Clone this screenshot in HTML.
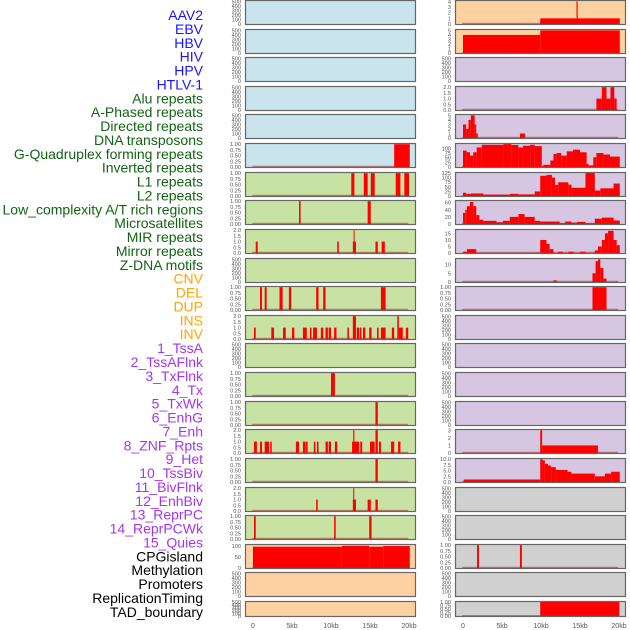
<!DOCTYPE html>
<html><head><meta charset="utf-8"><style>
html,body{margin:0;padding:0;background:#fff;}
svg{display:block;font-family:"Liberation Sans",sans-serif;}
</style></head><body>
<svg id="chart" width="630" height="630" viewBox="0 0 630 630" xmlns="http://www.w3.org/2000/svg"></svg>
<script>
// ---- labels ----
const trackLabels = ["AAV2","EBV","HBV","HIV","HPV","HTLV-1","Alu repeats","A-Phased repeats","Directed repeats","DNA transposons","G-Quadruplex forming repeats","Inverted repeats","L1 repeats","L2 repeats","Low_complexity A/T rich regions","Microsatellites","MIR repeats","Mirror repeats","Z-DNA motifs","CNV","DEL","DUP","INS","INV","1_TssA","2_TssAFlnk","3_TxFlnk","4_Tx","5_TxWk","6_EnhG","7_Enh","8_ZNF_Rpts","9_Het","10_TssBiv","11_BivFlnk","12_EnhBiv","13_ReprPC","14_ReprPCWk","15_Quies","CPGisland","Methylation","Promoters","ReplicationTiming","TAD_boundary"];
const labelColors = ["#1515ff","#1515ff","#1515ff","#1515ff","#1515ff","#1515ff","#126412","#126412","#126412","#126412","#126412","#126412","#126412","#126412","#126412","#126412","#126412","#126412","#126412","#ffa500","#ffa500","#ffa500","#ffa500","#ffa500","#a435f0","#a435f0","#a435f0","#a435f0","#a435f0","#a435f0","#a435f0","#a435f0","#a435f0","#a435f0","#a435f0","#a435f0","#a435f0","#a435f0","#a435f0","#000","#000","#000","#000","#000"];
const xTicks = [0,5,10,15,20];
const xTickLabels = ["0","5kb","10kb","15kb","20kb"];
// ---- tick sets ----
const tEmpty = [0,100,200,300,400,500];
const tEmptyL = ["0","100","200","300","400","500"];
const t1 = [0,0.25,0.5,0.75,1];
const t1L = ["0.00","0.25","0.50","0.75","1.00"];
const t2 = [0,0.5,1,1.5,2];
const t2L = ["0.0","0.5","1.0","1.5","2.0"];
// ---- left column data: [startKb, endKb, value] ----
const L6 = [[18.1,20.1,1]];
const L7 = [[12.6,13.0,1],[14.2,14.7,1],[15.1,15.6,1],[18.3,18.9,1],[19.4,20.0,1]];
const L8 = [[5.9,6.1,1],[14.7,15.1,1]];
const L9 = [[0.35,0.6,1],[10.8,11.0,1],[12.8,13.2,1],[12.9,13.0,2],[15.7,16.0,1],[16.5,16.9,1]];
const L11 = [[0.9,1.15,1],[1.5,1.75,1],[3.4,3.8,1],[4.6,4.9,1],[8.1,8.4,1],[9.0,9.3,1],[16.4,17.0,1]];
const L12 = [[0.13,0.35,1],[2.35,2.7,1],[3.85,4.2,1],[5.0,5.3,1],[6.4,6.9,1],[7.3,7.5,1],[7.7,8.2,1],[8.7,9.0,1],[9.3,9.6,1],[9.7,10.0,1],[10.4,10.7,1],[12.1,12.3,1],[12.8,13.2,2],[13.3,13.6,1],[13.7,13.9,1],[14.1,14.4,1],[14.9,15.2,1],[15.9,16.1,1],[16.4,17.0,1],[17.8,18.1,1],[18.5,18.7,2],[18.7,19.2,1],[19.6,19.9,1]];
const L14 = [[10.0,10.5,1]];
const L15 = [[15.7,16.0,1]];
const L16 = [[0.13,0.5,1],[0.9,1.15,1],[1.5,2.05,1],[2.2,2.4,1],[5.5,5.9,1],[6.4,6.7,1],[6.75,7.0,1],[7.8,8.0,1],[8.2,8.4,1],[9.3,9.6,1],[9.7,10.0,1],[10.5,10.8,1],[12.7,13.6,1],[12.85,13.0,2],[13.75,14.0,1],[15.0,15.6,1],[15.7,16.0,2],[16.15,16.4,1],[17.7,18.1,1],[18.6,18.9,1]];
const L17 = [[15.7,16.0,1]];
const L18 = [[8.1,8.3,1],[12.8,13.2,1],[12.85,12.95,2],[14.7,15.1,1],[15.7,16.0,1]];
const L19 = [[0.13,0.35,1],[10.4,10.6,1],[14.9,15.2,1]];
const L20 = [[0,11.4,97],[11.4,14.9,101],[14.9,16.7,97],[16.7,20.1,100]];
// ---- right column data ----
const R1 = [[9.9,20.1,1],[14.55,14.7,4]];
const R2 = [[0,9.9,4],[9.9,20.1,5]];
const R4 = [[17.1,17.8,1],[17.8,18.4,2],[18.4,18.9,1],[18.9,19.4,2],[19.4,19.7,1]];
const R5 = [[0,0.4,3],[0.4,0.7,2],[0.7,1.0,4],[1.0,1.5,5],[1.5,1.7,3],[1.7,1.9,1],[7.3,7.95,1]];
const R6 = [[0,0.46,88],[0.46,0.9,79],[0.9,1.3,61],[1.3,1.75,79],[1.75,2.4,105],[2.4,5.2,119],[5.2,6.2,123],[6.2,7.1,118],[7.1,7.7,105],[7.7,8.6,114],[8.6,9.2,119],[9.2,10.1,112],[10.1,10.3,5],[10.3,11.2,12],[11.2,11.6,35],[11.6,12.0,70],[12.0,12.6,75],[12.6,13.3,61],[13.3,14.1,84],[14.1,15.0,93],[15.0,15.85,79],[15.85,16.1,17],[16.1,16.7,9],[16.7,17.1,52],[17.1,18.0,75],[18.0,18.85,67],[18.85,20.1,56]];
const R7 = [[0,0.4,18],[0.4,1.0,12],[1.0,2.6,14],[2.6,6.0,8],[6.0,7.1,12],[7.1,9.2,9],[9.2,9.9,25],[9.9,10.7,110],[10.7,11.4,115],[11.4,11.8,100],[11.8,12.2,60],[12.2,13.5,75],[13.5,13.9,62],[13.9,15.7,45],[15.7,16.9,125],[16.9,17.6,30],[17.6,19.3,42],[19.3,20.1,68]];
const R8 = [[0,0.3,31],[0.3,0.5,40],[0.5,0.9,50],[0.9,1.3,62],[1.3,1.7,50],[1.7,2.1,25],[2.1,2.6,12],[2.6,4.3,9],[4.3,5.1,5],[5.1,6.0,9],[6.0,7.1,20],[7.1,7.9,28],[7.9,9.2,20],[9.2,9.9,9],[9.9,12.4,7],[12.4,13.1,2],[13.1,13.9,7],[13.9,14.6,4],[14.6,15.7,6],[15.7,16.9,2],[16.9,17.8,15],[17.8,19.3,18],[19.3,20.1,10]];
const R9 = [[0.06,0.5,1],[0.5,1.7,3],[9.9,10.7,10],[10.7,11.1,7],[11.1,11.6,3],[12.2,12.8,1],[13.5,14.2,1],[15.0,15.7,1],[16.9,17.3,2],[17.3,17.8,5],[17.8,18.2,10],[18.2,18.6,15],[18.6,19.3,17],[19.3,19.7,10],[19.7,20.1,6]];
const R10 = [[11.6,12.0,1],[16.6,17.0,5],[17.0,17.3,12],[17.3,17.6,13],[17.6,18.0,8],[18.0,18.4,2]];
const R11 = [[16.6,18.4,1]];
const R16 = [[9.9,10.15,3],[10.15,17.3,1]];
const R17 = [[0.1,9.9,1.1],[9.9,10.2,10],[10.2,10.5,9.5],[10.5,10.9,8],[10.9,11.3,7.2],[11.3,11.9,6.5],[11.9,13.4,5.3],[13.4,13.9,4.5],[13.9,16.9,3.7],[16.9,18.2,2.5],[18.2,19.0,3.7],[19.0,20.1,4.5]];
const R20 = [[1.8,2.05,1],[7.3,7.55,1]];
const R22 = [[9.9,20.05,1]];

const BLUE="#c9e4ec",GREEN="#c8e2a4",PEACH="#fdd2a0",LAV="#d6c6e2",GREY="#d0d0d0";
function P(bg,segs,ymax,ticks,tl){return {bg:bg,segs:segs,ymax:ymax,ticks:ticks,tl:tl};}
const E = (bg)=>P(bg,[],520,tEmpty,tEmptyL);
const leftPanels = [E(BLUE),E(BLUE),E(BLUE),E(BLUE),E(BLUE),P(BLUE,L6,1.03,t1,t1L),
 P(GREEN,L7,1.03,t1,t1L),P(GREEN,L8,1.03,t1,t1L),P(GREEN,L9,2.06,t2,t2L),E(GREEN),P(GREEN,L11,1.03,t1,t1L),P(GREEN,L12,2.06,t2,t2L),
 E(GREEN),P(GREEN,L14,1.03,t1,t1L),P(GREEN,L15,1.03,t1,t1L),P(GREEN,L16,2.06,t2,t2L),P(GREEN,L17,1.03,t1,t1L),P(GREEN,L18,2.06,t2,t2L),P(GREEN,L19,1.03,t1,t1L),
 P(PEACH,L20,107,[0,50,100],["0","50","100"]),E(PEACH),E(PEACH)];
const rightPanels = [P(PEACH,R1,4.15,[0,1,2,3,4],["0","1","2","3","4"]),P(PEACH,R2,5.2,[0,1,2,3,4,5],["0","1","2","3","4","5"]),E(LAV),
 P(LAV,R4,2.06,t2,t2L),P(LAV,R5,5.2,[0,1,2,3,4,5],["0","1","2","3","4","5"]),P(LAV,R6,126,[0,25,50,75,100],["0","25","50","75","100"]),
 P(LAV,R7,128,[0,25,50,75,100,125],["0","25","50","75","100","125"]),P(LAV,R8,66,[0,20,40,60],["0","20","40","60"]),P(LAV,R9,18,[0,5,10,15],["0","5","10","15"]),
 P(LAV,R10,13.5,[0,5,10],["0","5","10"]),P(LAV,R11,1.03,t1,t1L),E(LAV),E(LAV),E(LAV),E(LAV),
 P(LAV,R16,3.1,[0,1,2,3],["0","1","2","3"]),P(LAV,R17,10.3,[0,2.5,5,7.5,10],["0.0","2.5","5.0","7.5","10.0"]),
 E(GREY),E(GREY),P(GREY,R20,1.03,t1,t1L),E(GREY),P(GREY,R22,1.03,t1,t1L)];

const svg=document.getElementById('chart');
const NS="http://www.w3.org/2000/svg";
function mk(tag,attrs,parent){const e=document.createElementNS(NS,tag);for(const k in attrs)e.setAttribute(k,attrs[k]);(parent||svg).appendChild(e);return e;}

// labels
trackLabels.forEach((t,i)=>{
  const e=mk('text',{x:203,y:15+i*13.88+5,'text-anchor':'end','font-size':14,fill:labelColors[i]});
  
  
  e.textContent=t;
});

function rowTop(i){return Math.round(i*28.62);}
function rowH(i){return i===21?16:25;}

function drawPanel(p,i,px,col){
  const top=rowTop(i),h=rowH(i),w=171;
  const g=mk('g',{});
  
  
  const x0=px+8, kbScale=7.8;
  const xs=kb=>x0+kb*kbScale;
  const yBottom=top+h-0.5, yTop=top+0.5;
  const ymin=-0.02*p.ymax;
  const ys=v=>yBottom-(v-ymin)/(p.ymax-ymin)*(yBottom-yTop);
  const bg=mk('rect',{x:px,y:top,width:w,height:h,fill:p.bg},g);
  
  
  if(p.segs.length){
    const bl=mk('line',{x1:xs(-0.1),x2:xs(19.9),y1:ys(0)-0.5,y2:ys(0)-0.5,stroke:'rgba(170,40,40,0.55)','stroke-width':1.5},g);
    
    
  }
  p.segs.forEach(s=>{
    const x1=xs(s[0]),x2=xs(s[1]);
    const r=mk('rect',{x:x1,y:ys(s[2]),width:Math.max(x2-x1,1),height:ys(0)-ys(s[2]),fill:'#ff0000'},g);
    
    
  });
  const fr=mk('rect',{x:px+0.5,y:top+0.5,width:w-1,height:h-1,fill:'none',stroke:'#666','stroke-width':1.2},g);
  
  
  p.ticks.forEach((t,k)=>{
    const tx=mk('text',{x:px-4,y:ys(t)+2,'text-anchor':'end','font-size':5.6,fill:'#555'},g);
    
    
    tx.textContent=p.tl[k];
  });
}
leftPanels.forEach((p,i)=>drawPanel(p,i,245,'left'));
rightPanels.forEach((p,i)=>drawPanel(p,i,455,'right'));

[253,463].forEach(x0=>{
  xTicks.forEach((t,k)=>{
    const e=mk('text',{x:x0+t*7.8,y:628,'text-anchor':'middle','font-size':7,fill:'#555'});
    
    
    e.textContent=xTickLabels[k];
  });
});
</script>
</body></html>
